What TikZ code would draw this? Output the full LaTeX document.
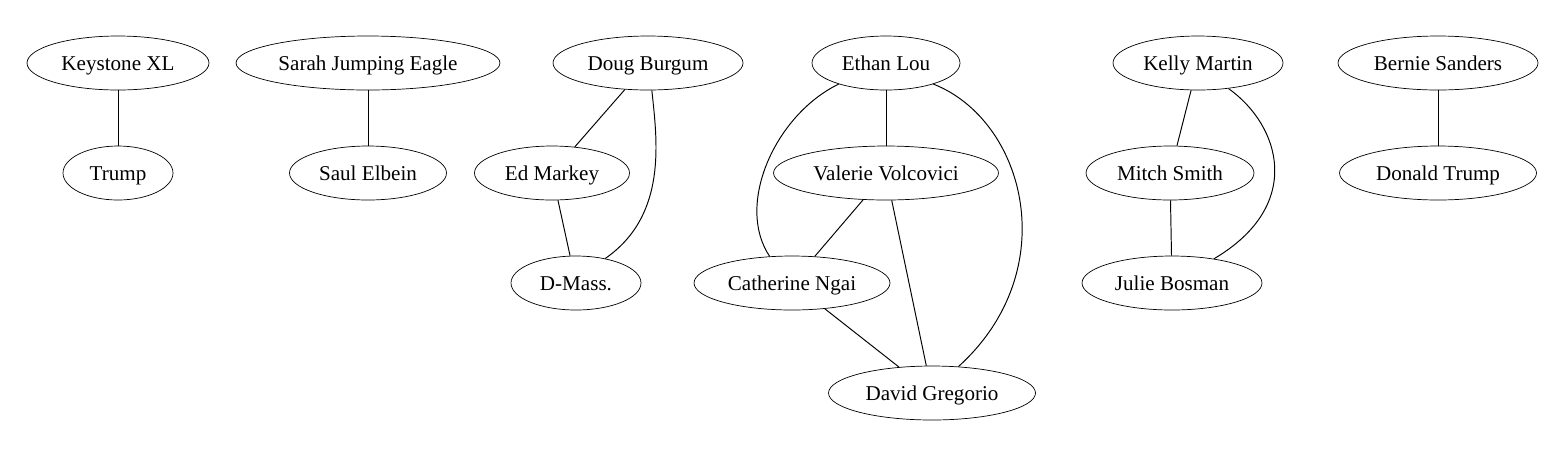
\documentclass[tikz,border=0pt]{standalone}
\usepackage{fontspec}
\setmainfont{Liberation Serif}
\usetikzlibrary{shapes.geometric}

\begin{document}
\begin{tikzpicture}[
    x=0.02cm, y=-0.02cm,
    person/.style={ellipse, draw, inner sep=0pt, minimum height=1.08cm,
                   text height=0.95em, text depth=0.05em,
                   font=\fontsize{12}{14}\selectfont},
    link/.style={draw, line width=0.55pt}
]
\useasboundingbox (0,0) rectangle (1561,468);

% === NODES ===
\node[person, minimum width=3.64cm] (keystone) at (118,63) {Keystone XL};
\node[person, minimum width=2.20cm] (trump) at (118,173) {Trump};
\node[person, minimum width=5.28cm] (sarah) at (368,63) {Sarah Jumping Eagle};
\node[person, minimum width=3.14cm] (saul) at (368,173) {Saul Elbein};
\node[person, minimum width=3.80cm] (doug) at (648,63) {Doug Burgum};
\node[person, minimum width=3.10cm] (markey) at (552,173) {Ed Markey};
\node[person, minimum width=2.60cm] (dmass) at (576,283) {D-Mass.};
\node[person, minimum width=2.96cm] (ethan) at (886,63) {Ethan Lou};
\node[person, minimum width=4.50cm] (valerie) at (886,173) {Valerie Volcovici};
\node[person, minimum width=3.92cm] (catherine) at (792,283) {Catherine Ngai};
\node[person, minimum width=4.14cm] (david) at (932,393) {David Gregorio};
\node[person, minimum width=3.40cm] (kelly) at (1198,63) {Kelly Martin};
\node[person, minimum width=3.36cm] (mitch) at (1170,173) {Mitch Smith};
\node[person, minimum width=3.60cm] (julie) at (1172,283) {Julie Bosman};
\node[person, minimum width=4.00cm] (bernie) at (1438,63) {Bernie Sanders};
\node[person, minimum width=3.94cm] (donald) at (1438,173) {Donald Trump};

% === EDGES ===
\draw[link] (keystone) -- (trump);
\draw[link] (sarah) -- (saul);
\draw[link] (doug) -- (markey);
\draw[link] (markey) -- (dmass);
\draw[link] (doug.-82) .. controls (657,140) and (668,215) .. (dmass.40);
\draw[link] (ethan) -- (valerie);
\draw[link] (ethan.-156) .. controls (775,115) and (735,205) .. (catherine.130);
\draw[link] (ethan.-24) .. controls (1025,120) and (1065,270) .. (david.45);
\draw[link] (valerie) -- (catherine);
\draw[link] (valerie) -- (david);
\draw[link] (catherine) -- (david);
\draw[link] (kelly) -- (mitch);
\draw[link] (kelly.-40) .. controls (1280,125) and (1305,205) .. (julie.30);
\draw[link] (mitch) -- (julie);
\draw[link] (bernie) -- (donald);

\end{tikzpicture}
\end{document}
